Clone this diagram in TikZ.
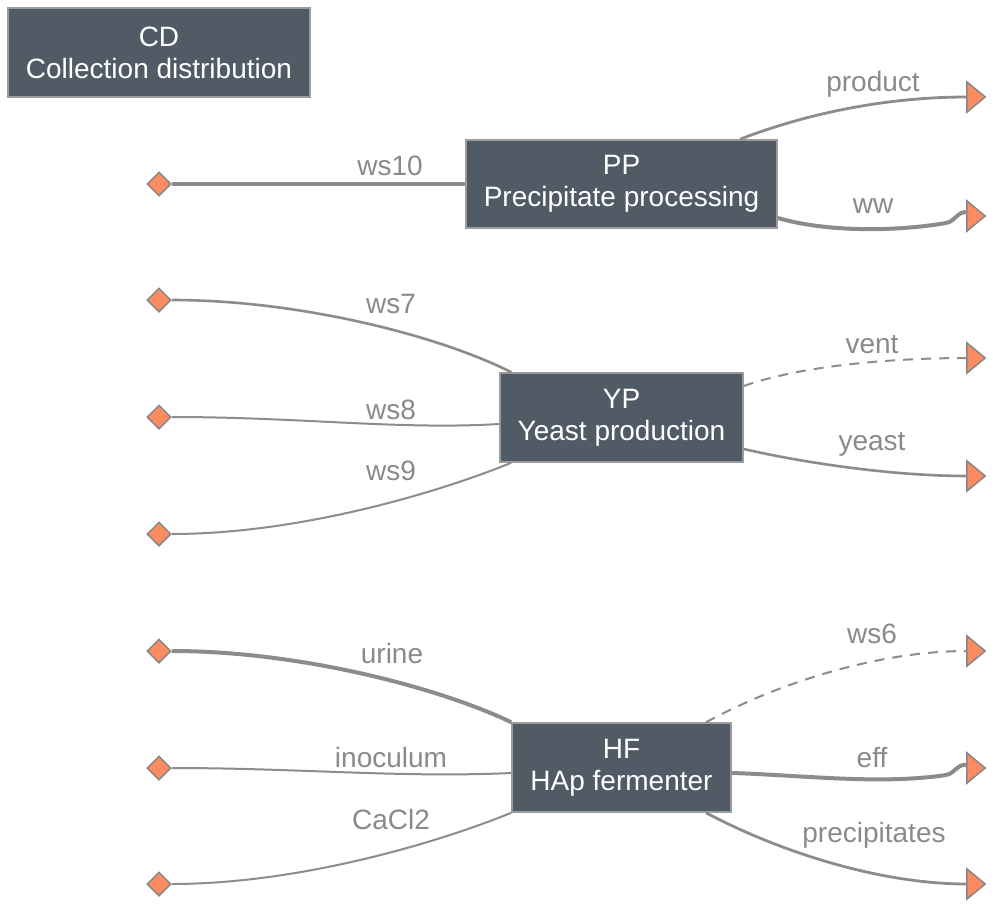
\documentclass[tikz,border=0pt]{standalone}
\usepackage{fontspec}
\setmainfont{Liberation Sans}
\usetikzlibrary{shapes.geometric}
\definecolor{nodefill}{RGB}{81,91,102}
\definecolor{nodeborder}{RGB}{155,155,155}
\definecolor{edgecol}{RGB}{140,140,140}
\definecolor{labcol}{RGB}{138,138,138}
\definecolor{portfill}{RGB}{250,140,95}
\definecolor{portborder}{RGB}{135,135,135}
\begin{document}
\begin{tikzpicture}[x=1pt,y=-1pt,
  unitbox/.style={draw=nodeborder,line width=1.5pt,fill=nodefill,text=white,align=center,
    font=\fontsize{28}{32}\selectfont,inner sep=0pt},
  source/.style={diamond,draw=portborder,fill=portfill,line width=1.5pt,minimum size=24pt,inner sep=0pt},
  sink/.style={minimum width=18pt,minimum height=30pt,inner sep=0pt},
  sinkshape/.style={draw=portborder,fill=portfill,line width=1.5pt,line join=miter},
  flow/.style={draw=edgecol,line width=#1},
  wasteflow/.style={draw=edgecol,line width=#1,dash pattern=on 10pt off 8pt},
  elabel/.style={text=labcol,font=\fontsize{28}{32}\selectfont,anchor=base,inner sep=0pt}]

\useasboundingbox[fill=white] (0,0) rectangle (994,907);

% units
\node[unitbox,minimum width=302pt,minimum height=89pt] (CD) at (159,52.5) {CD\\Collection distribution};
\node[unitbox,minimum width=311pt,minimum height=88pt] (PP) at (621.5,184) {PP\\Precipitate processing};
\node[unitbox,minimum width=243pt,minimum height=89pt] (YP) at (621.5,417.5) {YP\\Yeast production};
\node[unitbox,minimum width=219pt,minimum height=89pt] (HF) at (621.5,767.5) {HF\\HAp fermenter};

% sources
\node[source] (s1) at (159,184) {};
\node[source] (s2) at (159,300) {};
\node[source] (s3) at (159,417) {};
\node[source] (s4) at (159,534) {};
\node[source] (s5) at (159,651) {};
\node[source] (s6) at (159,768) {};
\node[source] (s7) at (159,884) {};

% sinks
\node[sink] (t1) at (976,97) {};
\node[sink] (t2) at (976,216) {};
\node[sink] (t3) at (976,358) {};
\node[sink] (t4) at (976,476) {};
\node[sink] (t5) at (976,651) {};
\node[sink] (t6) at (976,768) {};
\node[sink] (t7) at (976,884) {};
\foreach \t in {t1,t2,t3,t4,t5,t6,t7}
  \draw[sinkshape] (\t.north west) -- (\t.east) -- (\t.south west) -- cycle;

% PP streams
\draw[flow=4pt] (s1.east) -- (PP.west);
\draw[flow=2.8pt] ([xshift=118.5pt]PP.north) .. controls (800,116) and (880,97) .. (t1.west);
\draw[flow=4pt] ([yshift=-34pt]PP.east) .. controls (830,233) and (900,231) .. (946,223)
  .. controls (956,221) and (956,212) .. ([yshift=4pt]t2.west);

% YP streams
\draw[flow=2.6pt] (s2.east) .. controls (300,300) and (440,336) .. ([xshift=12pt]YP.north west);
\draw[flow=2pt] (s3.east) .. controls (300,417) and (400,430) .. ([yshift=-6.5pt]YP.west);
\draw[flow=2pt] (s4.east) .. controls (300,534) and (440,492) .. ([xshift=12pt]YP.south west);
\draw[wasteflow=2pt] ([yshift=31.5pt]YP.east) .. controls (800,366) and (890,358) .. (t3.west);
\draw[flow=2.6pt] ([yshift=-31.5pt]YP.east) .. controls (800,462) and (890,476) .. (t4.west);

% HF streams
\draw[flow=4pt] (s5.east) .. controls (300,651) and (440,688) .. (HF.north west);
\draw[flow=2pt] (s6.east) .. controls (300,768) and (400,778) .. ([yshift=-5.5pt]HF.west);
\draw[flow=2pt] (s7.east) .. controls (300,884) and (440,842) .. (HF.south west);
\draw[wasteflow=2pt] ([xshift=84.5pt]HF.north) .. controls (780,682) and (880,651) .. (t5.west);
\draw[flow=4pt] ([yshift=-5.5pt]HF.east) .. controls (800,775) and (880,785) .. (946,775)
  .. controls (956,773) and (956,764) .. ([yshift=3pt]t6.west);
\draw[flow=2.8pt] ([xshift=84.5pt]HF.south) .. controls (780,852) and (880,884) .. (t7.west);

% labels
\node[elabel] (l1) at (390,175) {ws10};
\node[elabel] (l2) at (873,92) {product};
\node[elabel] (l3) at (873,213) {ww};
\node[elabel] (l4) at (391,313) {ws7};
\node[elabel] (l5) at (391,419) {ws8};
\node[elabel] (l6) at (391,480) {ws9};
\node[elabel] (l7) at (872,353) {vent};
\node[elabel] (l8) at (872,450) {yeast};
\node[elabel] (l9) at (392,663) {urine};
\node[elabel] (l10) at (391,767) {inoculum};
\node[elabel] (l11) at (391,829) {CaCl2};
\node[elabel] (l12) at (872,643) {ws6};
\node[elabel] (l13) at (872,767) {eff};
\node[elabel] (l14) at (874,842) {precipitates};
\end{tikzpicture}
\end{document}
